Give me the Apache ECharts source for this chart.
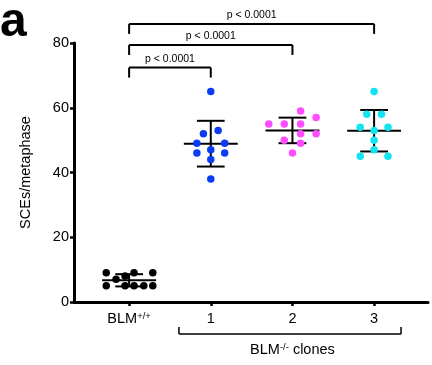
<!DOCTYPE html>
<html>
<head>
<meta charset="utf-8">
<script src="https://cdn.jsdelivr.net/npm/echarts@6/dist/echarts.min.js"></script>
<style>
  html, body { margin: 0; padding: 0; background: #fff; }
  #chart { width: 432px; height: 365px; }
</style>
</head>
<body>
<div id="chart"></div>
<script>
const FONT = '"Liberation Sans", Arial, sans-serif'

// group names on the x axis (rich-text keys for superscripts)
const groupLabels = ['{m|BLM}{s|+/+}', '{m|1}', '{m|2}', '{m|3}']
const groupColors = ['#000000', '#0a3cf5', '#ff4cff', '#12e4f2']

// SCEs per metaphase, one list per group
const blmWt = [9, 9, 9, 7, 8, 5, 5, 5, 5, 5]
const clone1 = [65, 52, 53, 49, 49, 46, 47, 46, 44, 38]
const clone2 = [59, 57, 55, 55, 55, 52, 52, 50, 49, 46]
const clone3 = [65, 58, 58, 54, 53, 54, 50, 47, 45, 45]

// horizontal scatter of each dot, in category units
const jitterWt = [-0.28, 0.06, 0.29, -0.16, -0.05, -0.28, -0.05, 0.06, 0.18, 0.29]
const jitter1 = [0, -0.09, 0.09, -0.17, 0.17, -0.17, 0, 0.17, 0, 0]
const jitter2 = [0.1, 0.29, -0.29, -0.1, 0.1, 0.1, 0.29, -0.1, 0.1, 0]
const jitter3 = [0, -0.09, 0.09, -0.17, 0, 0.17, 0, 0, -0.17, 0.17]

const groups = [blmWt, clone1, clone2, clone3]
const jitters = [jitterWt, jitter1, jitter2, jitter3]

// significance brackets: [from group, to group, bar height, label]
const brackets = [
  [0, 3, 85.9, 'p < 0.0001'],
  [0, 2, 79.4, 'p < 0.0001'],
  [0, 1, 72.4, 'p < 0.0001'],
]

function mean(a) { return a.reduce((s, v) => s + v, 0) / a.length }
function sd(a) {
  const m = mean(a)
  return Math.sqrt(a.reduce((s, v) => s + (v - m) * (v - m), 0) / (a.length - 1))
}

const stats = groups.map((g, i) => [i, mean(g), sd(g)])

const dotSeries = groups.map((g, i) => ({
  type: 'scatter',
  symbolSize: 7.5,
  z: 3,
  itemStyle: { color: groupColors[i], opacity: 1 },
  data: g.map((v, k) => [i + jitters[i][k], v]),
}))

const line = (p1, p2, w) => ({
  type: 'line',
  shape: { x1: p1[0], y1: p1[1], x2: p2[0], y2: p2[1] },
  style: { stroke: '#000', lineWidth: w },
})

const chart = echarts.init(document.getElementById('chart'))
chart.setOption({
  animation: false,
  grid: { left: 74, right: 4, top: 43, bottom: 63 },
  xAxis: {
    type: 'value',
    min: -0.675,
    max: 3.66,
    splitLine: { show: false },
    axisLine: { onZero: false, lineStyle: { color: '#000', width: 3 } },
    axisTick: { customValues: [0, 1, 2, 3], length: 4, lineStyle: { color: '#000', width: 2.5 } },
    axisLabel: {
      customValues: [0, 1, 2, 3],
      margin: 9,
      formatter: v => groupLabels[Math.round(v)],
      rich: {
        m: { fontFamily: FONT, fontSize: 14.5, color: '#000' },
        s: { fontFamily: FONT, fontSize: 9.5, color: '#000', verticalAlign: 'top', padding: [0, 0, 6, 0] },
      },
    },
  },
  yAxis: {
    type: 'value',
    min: 0,
    max: 80,
    interval: 20,
    name: 'SCEs/metaphase',
    nameLocation: 'middle',
    nameGap: 41,
    nameTextStyle: { fontFamily: FONT, fontSize: 14.5, color: '#000' },
    splitLine: { show: false },
    axisLine: { show: true, onZero: false, lineStyle: { color: '#000', width: 3 } },
    axisTick: { show: true, length: 4, lineStyle: { color: '#000', width: 2.5 } },
    axisLabel: { fontFamily: FONT, fontSize: 14.5, color: '#000', margin: 5 },
  },
  graphic: [{
    type: 'text',
    left: 0,
    top: -1,
    style: { text: 'a', font: 'bold 48px ' + FONT, fill: '#000' },
  }],
  series: [
    ...dotSeries,
    {
      // mean ± SD
      type: 'custom',
      z: 2,
      data: stats,
      renderItem: (params, api) => {
        const x = api.value(0), m = api.value(1), s = api.value(2)
        return {
          type: 'group',
          children: [
            line(api.coord([x - 0.33, m]), api.coord([x + 0.33, m]), 2),
            line(api.coord([x, m - s]), api.coord([x, m + s]), 2),
            line(api.coord([x - 0.17, m + s]), api.coord([x + 0.17, m + s]), 2),
            line(api.coord([x - 0.17, m - s]), api.coord([x + 0.17, m - s]), 2),
          ],
        }
      },
    },
    {
      // significance brackets
      type: 'custom',
      z: 2,
      data: brackets,
      renderItem: (params, api) => {
        const a = api.value(0), b = api.value(1), h = api.value(2)
        const pa = api.coord([a, h]), pb = api.coord([b, h])
        const leg = 10
        return {
          type: 'group',
          children: [
            line(pa, pb, 2),
            line(pa, [pa[0], pa[1] + leg], 2),
            line(pb, [pb[0], pb[1] + leg], 2),
            {
              type: 'text',
              style: {
                x: (pa[0] + pb[0]) / 2, y: pa[1] - 3,
                text: brackets[params.dataIndex][3],
                font: '10.5px ' + FONT, fill: '#000',
                align: 'center', verticalAlign: 'bottom',
              },
            },
          ],
        }
      },
    },
    {
      // clone group bracket under the axis
      type: 'custom',
      data: [[0.61, 3.33, -9.9]],
      renderItem: (params, api) => {
        const pa = api.coord([api.value(0), api.value(2)])
        const pb = api.coord([api.value(1), api.value(2)])
        return {
          type: 'group',
          children: [
            line(pa, pb, 1.5),
            line(pa, [pa[0], pa[1] - 7], 1.5),
            line(pb, [pb[0], pb[1] - 7], 1.5),
            {
              type: 'text',
              style: {
                x: api.coord([2, 0])[0], y: pa[1] + 8,
                text: '{m|BLM}{s|-/-}{m| clones}',
                align: 'center', verticalAlign: 'top',
                rich: {
                  m: { fontFamily: FONT, fontSize: 14.5, fill: '#000' },
                  s: { fontFamily: FONT, fontSize: 9.5, fill: '#000', verticalAlign: 'top', padding: [0, 0, 6, 0] },
                },
              },
            },
          ],
        }
      },
    },
  ],
})
</script>
</body>
</html>
